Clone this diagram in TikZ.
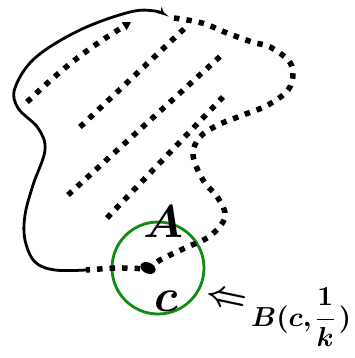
\documentclass[tikz,border=0pt]{standalone}
\usetikzlibrary{arrows.meta}
\definecolor{ballgreen}{RGB}{16,140,16}
\begin{document}
\begin{tikzpicture}[x=1pt,y=-1pt,pathline/.style={line width=2.8pt,line cap=round},dotline/.style={line width=5.5pt,dash pattern=on 5.5pt off 7pt},ball/.style={circle,draw=ballgreen,line width=2.8pt,minimum size=92pt,inner sep=0pt},lbl/.style={inner sep=0pt}]
\useasboundingbox (0,0) rectangle (355,358);
\coordinate (S) at (86,270);
\coordinate (T) at (165,15);
\coordinate (X) at (148,268);
\node[ball] (O) at (158,268) {};
\draw[pathline,-{Stealth[length=8pt,width=8pt]}] plot[smooth,tension=0.6] coordinates {(S) (55,270) (35,262) (25,240) (25,215) (33,185) (45,150) (38,128) (18,108) (15,88) (35,58) (80,30) (130,12) (155,11) (T)};
\draw[dotline] plot[smooth,tension=0.6] coordinates {(174,18) (202,23) (227,33) (252,42) (270,47) (288,60) (293,73) (288,90) (268,105) (243,115) (218,125) (200,137) (193,155) (203,180) (218,198) (225,217) (210,236) (185,248) (160,260) (X) (117,268) (S)};
\fill[rotate around={-25:(X)}] (X) ellipse (8pt and 5.5pt);
\draw[dotline,-{Triangle[length=8pt,width=9pt]}] (27,102) to[bend left=6] (131,22);
\draw[dotline] (80,127) -- (185,28);
\draw[dotline] (68,195) -- (225,52);
\draw[dotline] (107,218) -- (223,97);
\node[lbl] (A) at (163,222) {\scalebox{4.6}{\boldmath$A$}};
\node[lbl] (C) at (166,301) {\scalebox{4.6}{\boldmath$c$}};
\node[lbl,rotate=-12] (arr) at (226,300) {\scalebox{3.6}{\boldmath$\Leftarrow$}};
\node[lbl,anchor=base west] (B) at (251,326) {\scalebox{2.75}{\boldmath$B(c,\mkern-2mu{\displaystyle\frac{1}{k}}\mkern1mu)$}};
\end{tikzpicture}
\end{document}
